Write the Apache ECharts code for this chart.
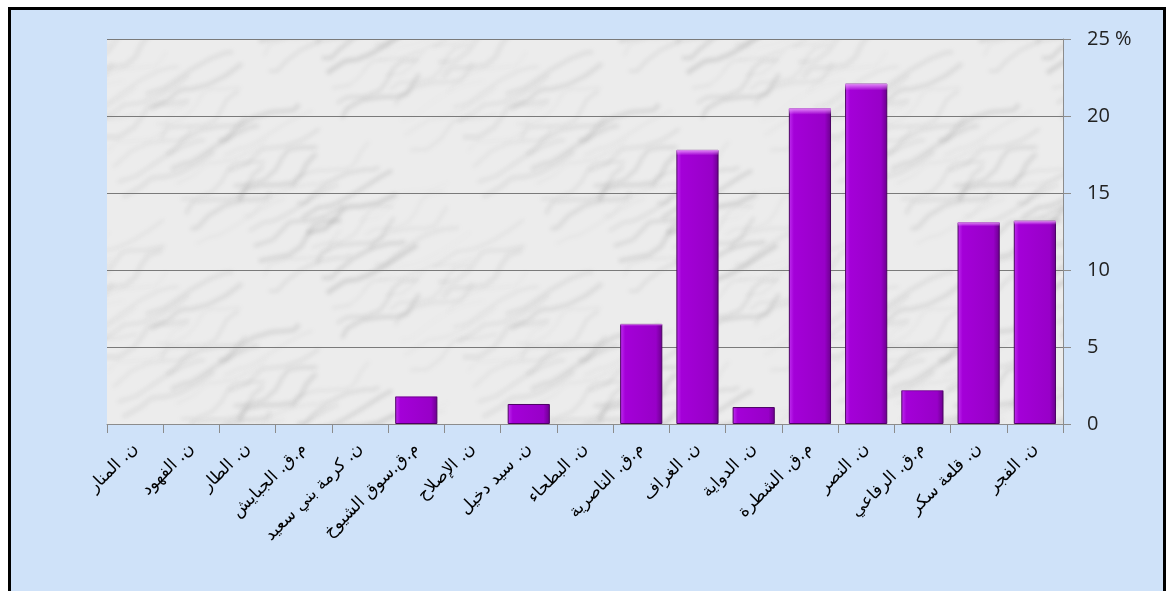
<!DOCTYPE html>
<html><head><meta charset="utf-8">
<script src="https://cdn.jsdelivr.net/npm/echarts@6/dist/echarts.min.js"></script>
<style>
html,body{margin:0;padding:0;background:#fff;}
#frame{position:absolute;left:8px;top:7px;width:1152px;height:590px;border:3px solid #000;background:#cfe2f9;}
#c{position:absolute;left:0;top:0;width:1167px;height:591px;}
</style></head><body>
<div id="frame"></div>
<div id="c"></div>
<script>
const categories = ['ن. المنار','ن. الفهود','ن. الطار','م.ق. الجبايش','ن. كرمة بني سعيد','م.ق.سوق الشيوخ','ن. الإصلاح','ن. سيد دخيل','ن. البطحاء','م.ق. الناصرية','ن. الغراف','ن. الدواية','م.ق. الشطرة','ن. النصر','م.ق. الرفاعي','ن. قلعة سكر','ن. الفجر'];
const values = [0,0,0,0,0,1.8,0,1.3,0,6.5,17.8,1.1,20.5,22.1,2.2,13.1,13.2];
const yTicks = [0,5,10,15,20,25];

// marble-like texture drawn deterministically, wrapped so tiles join
const TW = 360, TH = 220;
const tex = document.createElement('canvas');
tex.width = TW; tex.height = TH;
const g = tex.getContext('2d');
g.fillStyle = '#ececec'; g.fillRect(0,0,TW,TH);
g.filter = 'blur(2px)';
for (let i = 0; i < 55; i++) {
  const x0 = (i * 73) % TW, y0 = (i * 47) % TH;
  g.strokeStyle = 'rgba(105,105,105,' + (0.07 + (i % 5) * 0.035) + ')';
  g.lineWidth = 1 + (i % 4);
  for (const dx of [-TW, 0, TW]) for (const dy of [-TH, 0, TH]) {
    g.beginPath();
    g.moveTo(x0 + dx, y0 + dy);
    for (let k = 1; k <= 7; k++) {
      g.lineTo(x0 + dx + k * 12 + Math.sin(i + k) * 7, y0 + dy - k * 6 + Math.cos(i * 2 + k) * 6);
    }
    g.stroke();
  }
}
g.filter = 'none';

const chart = echarts.init(document.getElementById('c'));
chart.setOption({
  animation:false,
  backgroundColor:'transparent',
  grid:{left:107,right:104,top:39,bottom:167,show:true,borderWidth:0,
    backgroundColor:{image:tex,repeat:'repeat'}},
  xAxis:{type:'category',data:categories,
    axisLine:{lineStyle:{color:'#8c8c8c',width:1}},
    axisTick:{show:true,length:9,lineStyle:{color:'#8c8c8c'}},
    axisLabel:{interval:0,rotate:45,fontSize:17,color:'#000',fontFamily:'DejaVu Sans, Noto Sans, sans-serif',margin:22}},
  yAxis:{type:'value',position:'right',min:0,max:25,interval:5,
    axisLine:{show:true,lineStyle:{color:'#8c8c8c'}},
    axisTick:{show:true,length:8,lineStyle:{color:'#8c8c8c'}},
    splitLine:{lineStyle:{color:'#7a7a7a',width:1}},
    axisLabel:{fontSize:20,color:'#222',fontFamily:'Open Sans, Lato, sans-serif',margin:24,
      formatter:v=> v===yTicks[yTicks.length-1] ? v+' %' : String(v)}},
  series:[{type:'bar',data:values.map(v=>v>0?v:{value:v,itemStyle:{borderWidth:0,opacity:0}}),barCategoryGap:'25%',
    itemStyle:{borderColor:'#4b0063',borderWidth:1,
      color:{type:'linear',x:0,y:0,x2:1,y2:0,colorStops:[{offset:0,color:'#c030f0'},{offset:0.12,color:'#a400d8'},{offset:0.85,color:'#9800c8'},{offset:1,color:'#6a008c'}]}}},
    {type:'bar',data:values.map(v=>v>0?v:null),barGap:'-100%',barCategoryGap:'25%',silent:true,
      itemStyle:{color:{type:'linear',x:0,y:0,x2:0,y2:1,colorStops:[{offset:0,color:'rgba(235,150,255,0.95)'},{offset:0.02,color:'rgba(235,150,255,0.0)'},{offset:1,color:'rgba(230,140,255,0)'}]}}}
  ]
});
</script>
</body></html>
